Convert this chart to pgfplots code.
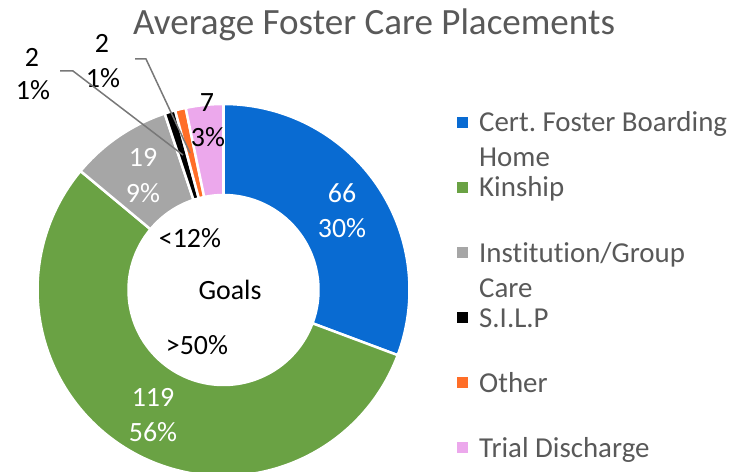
\documentclass[border=0pt]{standalone}
\usepackage{fontspec}
\setmainfont{Carlito}[Ligatures={NoCommon,NoRare}]
\usepackage{pgfplots}
\usepackage{pgfplotstable}
\pgfplotsset{compat=1.18}
\definecolor{cfbh}{RGB}{9,107,210}
\definecolor{kinship}{RGB}{106,162,68}
\definecolor{inst}{RGB}{166,166,166}
\definecolor{silp}{RGB}{0,0,0}
\definecolor{other}{RGB}{255,110,40}
\definecolor{trial}{RGB}{236,168,236}
\definecolor{txtgray}{RGB}{89,89,89}
\definecolor{leader}{RGB}{120,120,120}

% average placements per category
\pgfplotstableread{
value col
66 cfbh
119 kinship
19 inst
2 silp
2 other
7 trial
}\placements

\newcommand{\lblfont}{\fontsize{28}{34}\selectfont}
\newcommand{\legfont}{\fontsize{29}{35}\selectfont}
\tikzset{
  txt/.style={anchor=base, yshift=-9.5bp, inner sep=0pt, font=\lblfont},
  leg/.style={anchor=base west, yshift=-9.5bp, inner sep=0pt, font=\legfont, text=txtgray},
}

\begin{document}
\frenchspacing
\begin{tikzpicture}
\useasboundingbox (0,0) rectangle (751bp,472bp);
\begin{axis}[
  at={(0,0)}, anchor=south west,
  scale only axis, width=751bp, height=472bp,
  xmin=0, xmax=751, ymin=0, ymax=472,
  y dir=reverse, hide axis, clip=false,
]
% donut slices, clockwise from 12 o'clock
\pgfplotstablegetrowsof{\placements}
\pgfmathtruncatemacro\nlast{\pgfplotsretval-1}
\gdef\tot{0}
\foreach \i in {0,...,\nlast}{
  \pgfplotstablegetelem{\i}{value}\of\placements
  \pgfmathsetmacro\tmpsum{\tot+\pgfplotsretval}\global\let\tot\tmpsum
}
\gdef\sA{90}
\foreach \i in {0,...,\nlast}{
  \pgfplotstablegetelem{\i}{value}\of\placements
  \pgfmathsetmacro\eA{\sA-\pgfplotsretval/\tot*360}
  \pgfplotstablegetelem{\i}{col}\of\placements
  \edef\slicecol{\pgfplotsretval}
  \edef\tmp{\noexpand\fill[\slicecol, draw=white, line width=2.5bp]
    ([shift={(\sA:186bp)}]axis cs:223.5,290) arc[start angle=\sA, end angle=\eA, radius=186bp]
    -- ([shift={(\eA:95bp)}]axis cs:223.5,290) arc[start angle=\eA, end angle=\sA, radius=95bp] -- cycle;}
  \tmp
  \global\let\sA\eA
}

% title
\node[anchor=base, yshift=-11.8bp, inner sep=0pt, font=\fontsize{37.2}{42}\selectfont, text=txtgray]
  at (axis cs:374,23) {Average Foster Care Placements};

% data labels
\node[txt, white] at (axis cs:342,193) {66};
\node[txt, white] at (axis cs:342,228) {30\%};
\node[txt, white] at (axis cs:153,397) {119};
\node[txt, white] at (axis cs:153,432) {56\%};
\node[txt, white] at (axis cs:143,157) {19};
\node[txt, white] at (axis cs:143,193) {9\%};
\node[txt] at (axis cs:207,102) {7};
\node[txt] at (axis cs:208,137) {3\%};
\node[txt] at (axis cs:32,57) {2};
\node[txt] at (axis cs:33,90) {1\%};
\node[txt] at (axis cs:102,43) {2};
\node[txt] at (axis cs:103,78) {1\%};
\draw[leader, line width=1.5bp] (axis cs:60,71) -- (axis cs:73,71) -- (axis cs:183,155);
\draw[leader, line width=1.5bp] (axis cs:135,59) -- (axis cs:146,59) -- (axis cs:190,153);

% centre text
\node[txt] at (axis cs:190,238) {<12\%};
\node[txt] at (axis cs:230,290) {Goals};
\node[txt] at (axis cs:197,345) {>50\%};

% legend
\fill[cfbh]    (axis cs:457,117) rectangle (axis cs:468,128);
\fill[kinship] (axis cs:457,182) rectangle (axis cs:468,193);
\fill[inst]    (axis cs:457,247) rectangle (axis cs:468,258);
\fill[silp]    (axis cs:457,312) rectangle (axis cs:468,323);
\fill[other]   (axis cs:457,377) rectangle (axis cs:468,388);
\fill[trial]   (axis cs:457,442) rectangle (axis cs:468,453);
\node[leg] at (axis cs:479,122) {Cert. Foster Boarding};
\node[leg] at (axis cs:479,157) {Home};
\node[leg] at (axis cs:479,187) {Kinship};
\node[leg] at (axis cs:479,253) {Inst\kern0pt itut\kern0pt ion/Group};
\node[leg] at (axis cs:479,288) {Care};
\node[leg] at (axis cs:479,318) {S.I.L.P};
\node[leg] at (axis cs:479,383) {Other};
\node[leg] at (axis cs:479,448) {Trial Discharge};
\end{axis}
\end{tikzpicture}
\end{document}
